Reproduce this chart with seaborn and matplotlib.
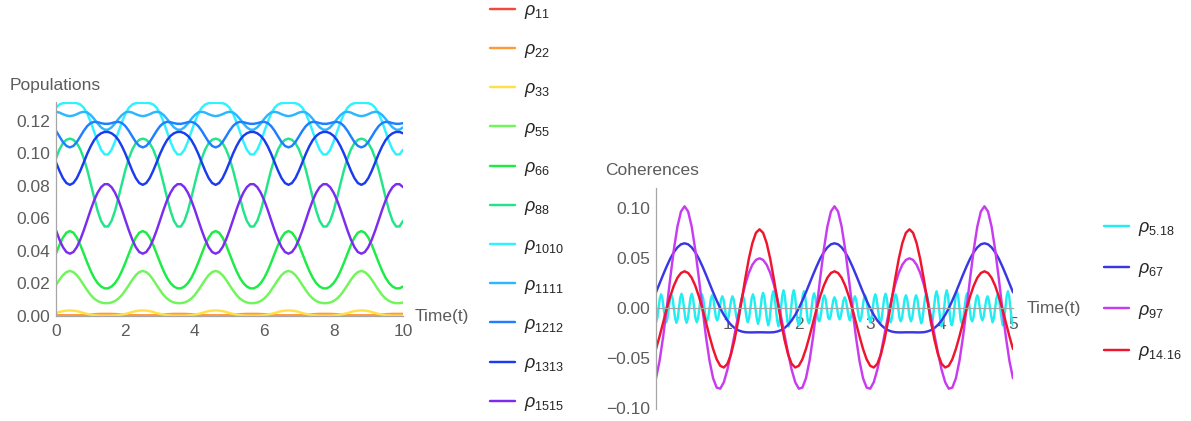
import numpy as np
import pandas as pd
import matplotlib
matplotlib.use("Agg")
import matplotlib.pyplot as plt
from matplotlib.lines import Line2D
from matplotlib.ticker import MultipleLocator, FixedLocator, FuncFormatter
import seaborn as sns

sns.set_theme(style="white")
plt.rcParams["font.family"] = ["Liberation Sans", "DejaVu Sans"]
plt.rcParams["mathtext.fontset"] = "custom"
plt.rcParams["mathtext.rm"] = "Liberation Sans"
plt.rcParams["mathtext.it"] = "Liberation Sans:italic"
plt.rcParams["axes.unicode_minus"] = True

# ---------------- populations (t = 0 .. 10, step 0.1) ----------------
t_pop = np.linspace(0, 10, 101)

rho_11 = [
    0.0002, 0.0002, 0.0001, 0.0001, 0.0001, 0.0001, 0.0001, 0.0002, 0.0002, 0.0003, 0.0004, 0.0005, 0.0006, 0.0006, 0.0007, 0.0007, 0.0006, 0.0006, 0.0005, 0.0004, 0.0003,
    0.0002, 0.0002, 0.0001, 0.0001, 0.0001, 0.0001, 0.0001, 0.0002, 0.0002, 0.0003, 0.0004, 0.0005, 0.0006, 0.0006, 0.0007, 0.0007, 0.0006, 0.0006, 0.0005, 0.0004, 0.0003,
    0.0002, 0.0002, 0.0001, 0.0001, 0.0001, 0.0001, 0.0001, 0.0002, 0.0002, 0.0003, 0.0004, 0.0005, 0.0006, 0.0006, 0.0007, 0.0007, 0.0006, 0.0006, 0.0005, 0.0004, 0.0003,
    0.0002, 0.0002, 0.0001, 0.0001, 0.0001, 0.0001, 0.0001, 0.0002, 0.0002, 0.0003, 0.0004, 0.0005, 0.0006, 0.0006, 0.0007, 0.0007, 0.0006, 0.0006, 0.0005, 0.0004, 0.0003,
    0.0002, 0.0002, 0.0001, 0.0001, 0.0001, 0.0001, 0.0001, 0.0002, 0.0002, 0.0003, 0.0004, 0.0005, 0.0006, 0.0006, 0.0007, 0.0007, 0.0006,
]
rho_22 = [
    0.0006, 0.0005, 0.0004, 0.0004, 0.0004, 0.0004, 0.0004, 0.0005, 0.0006, 0.0008, 0.0009, 0.0011, 0.0012, 0.0013, 0.0013, 0.0013, 0.0013, 0.0012, 0.0011, 0.0009, 0.0008,
    0.0006, 0.0005, 0.0004, 0.0004, 0.0004, 0.0004, 0.0004, 0.0005, 0.0006, 0.0008, 0.0009, 0.0011, 0.0012, 0.0013, 0.0013, 0.0013, 0.0013, 0.0012, 0.0011, 0.0009, 0.0008,
    0.0006, 0.0005, 0.0004, 0.0004, 0.0004, 0.0004, 0.0004, 0.0005, 0.0006, 0.0008, 0.0009, 0.0011, 0.0012, 0.0013, 0.0013, 0.0013, 0.0013, 0.0012, 0.0011, 0.0009, 0.0008,
    0.0006, 0.0005, 0.0004, 0.0004, 0.0004, 0.0004, 0.0004, 0.0005, 0.0006, 0.0008, 0.0009, 0.0011, 0.0012, 0.0013, 0.0013, 0.0013, 0.0013, 0.0012, 0.0011, 0.0009, 0.0008,
    0.0006, 0.0005, 0.0004, 0.0004, 0.0004, 0.0004, 0.0004, 0.0005, 0.0006, 0.0008, 0.0009, 0.0011, 0.0012, 0.0013, 0.0013, 0.0013, 0.0013,
]
rho_33 = [
    0.0018, 0.0025, 0.0030, 0.0033, 0.0034, 0.0033, 0.0030, 0.0025, 0.0018, 0.0013, 0.0008, 0.0005, 0.0003, 0.0002, 0.0002, 0.0002, 0.0002, 0.0003, 0.0005, 0.0008, 0.0013,
    0.0018, 0.0025, 0.0030, 0.0033, 0.0034, 0.0033, 0.0030, 0.0025, 0.0018, 0.0013, 0.0008, 0.0005, 0.0003, 0.0002, 0.0002, 0.0002, 0.0002, 0.0003, 0.0005, 0.0008, 0.0013,
    0.0018, 0.0025, 0.0030, 0.0033, 0.0034, 0.0033, 0.0030, 0.0025, 0.0018, 0.0013, 0.0008, 0.0005, 0.0003, 0.0002, 0.0002, 0.0002, 0.0002, 0.0003, 0.0005, 0.0008, 0.0013,
    0.0018, 0.0025, 0.0030, 0.0033, 0.0034, 0.0033, 0.0030, 0.0025, 0.0018, 0.0013, 0.0008, 0.0005, 0.0003, 0.0002, 0.0002, 0.0002, 0.0002, 0.0003, 0.0005, 0.0008, 0.0013,
    0.0018, 0.0025, 0.0030, 0.0033, 0.0034, 0.0033, 0.0030, 0.0025, 0.0018, 0.0013, 0.0008, 0.0005, 0.0003, 0.0002, 0.0002, 0.0002, 0.0002,
]
rho_55 = [
    0.0190, 0.0223, 0.0251, 0.0270, 0.0277, 0.0270, 0.0251, 0.0223, 0.0190, 0.0158, 0.0129, 0.0107, 0.0092, 0.0083, 0.0079, 0.0079, 0.0083, 0.0092, 0.0107, 0.0129, 0.0158,
    0.0190, 0.0223, 0.0251, 0.0270, 0.0277, 0.0270, 0.0251, 0.0223, 0.0190, 0.0158, 0.0129, 0.0107, 0.0092, 0.0083, 0.0079, 0.0079, 0.0083, 0.0092, 0.0107, 0.0129, 0.0158,
    0.0190, 0.0223, 0.0251, 0.0270, 0.0277, 0.0270, 0.0251, 0.0223, 0.0190, 0.0158, 0.0129, 0.0107, 0.0092, 0.0083, 0.0079, 0.0079, 0.0083, 0.0092, 0.0107, 0.0129, 0.0158,
    0.0190, 0.0223, 0.0251, 0.0270, 0.0277, 0.0270, 0.0251, 0.0223, 0.0190, 0.0158, 0.0129, 0.0107, 0.0092, 0.0083, 0.0079, 0.0079, 0.0083, 0.0092, 0.0107, 0.0129, 0.0158,
    0.0190, 0.0223, 0.0251, 0.0270, 0.0277, 0.0270, 0.0251, 0.0223, 0.0190, 0.0158, 0.0129, 0.0107, 0.0092, 0.0083, 0.0079, 0.0079, 0.0083,
]
rho_66 = [
    0.0383, 0.0437, 0.0482, 0.0512, 0.0522, 0.0512, 0.0482, 0.0437, 0.0383, 0.0328, 0.0277, 0.0234, 0.0202, 0.0181, 0.0170, 0.0170, 0.0181, 0.0202, 0.0234, 0.0277, 0.0328,
    0.0383, 0.0437, 0.0482, 0.0512, 0.0522, 0.0512, 0.0482, 0.0437, 0.0383, 0.0328, 0.0277, 0.0234, 0.0202, 0.0181, 0.0170, 0.0170, 0.0181, 0.0202, 0.0234, 0.0277, 0.0328,
    0.0383, 0.0437, 0.0482, 0.0512, 0.0522, 0.0512, 0.0482, 0.0437, 0.0383, 0.0328, 0.0277, 0.0234, 0.0202, 0.0181, 0.0170, 0.0170, 0.0181, 0.0202, 0.0234, 0.0277, 0.0328,
    0.0383, 0.0437, 0.0482, 0.0512, 0.0522, 0.0512, 0.0482, 0.0437, 0.0383, 0.0328, 0.0277, 0.0234, 0.0202, 0.0181, 0.0170, 0.0170, 0.0181, 0.0202, 0.0234, 0.0277, 0.0328,
    0.0383, 0.0437, 0.0482, 0.0512, 0.0522, 0.0512, 0.0482, 0.0437, 0.0383, 0.0328, 0.0277, 0.0234, 0.0202, 0.0181, 0.0170, 0.0170, 0.0181,
]
rho_88 = [
    0.0969, 0.1024, 0.1062, 0.1083, 0.1090, 0.1083, 0.1062, 0.1024, 0.0969, 0.0898, 0.0814, 0.0727, 0.0646, 0.0584, 0.0550, 0.0550, 0.0584, 0.0646, 0.0727, 0.0814, 0.0898,
    0.0969, 0.1024, 0.1062, 0.1083, 0.1090, 0.1083, 0.1062, 0.1024, 0.0969, 0.0898, 0.0814, 0.0727, 0.0646, 0.0584, 0.0550, 0.0550, 0.0584, 0.0646, 0.0727, 0.0814, 0.0898,
    0.0969, 0.1024, 0.1062, 0.1083, 0.1090, 0.1083, 0.1062, 0.1024, 0.0969, 0.0898, 0.0814, 0.0727, 0.0646, 0.0584, 0.0550, 0.0550, 0.0584, 0.0646, 0.0727, 0.0814, 0.0898,
    0.0969, 0.1024, 0.1062, 0.1083, 0.1090, 0.1083, 0.1062, 0.1024, 0.0969, 0.0898, 0.0814, 0.0727, 0.0646, 0.0584, 0.0550, 0.0550, 0.0584, 0.0646, 0.0727, 0.0814, 0.0898,
    0.0969, 0.1024, 0.1062, 0.1083, 0.1090, 0.1083, 0.1062, 0.1024, 0.0969, 0.0898, 0.0814, 0.0727, 0.0646, 0.0584, 0.0550, 0.0550, 0.0584,
]
rho_1010 = [
    0.1280, 0.1300, 0.1308, 0.1310, 0.1310, 0.1310, 0.1308, 0.1300, 0.1280, 0.1244, 0.1192, 0.1132, 0.1071, 0.1021, 0.0993, 0.0993, 0.1021, 0.1071, 0.1132, 0.1192, 0.1244,
    0.1280, 0.1300, 0.1308, 0.1310, 0.1310, 0.1310, 0.1308, 0.1300, 0.1280, 0.1244, 0.1192, 0.1132, 0.1071, 0.1021, 0.0993, 0.0993, 0.1021, 0.1071, 0.1132, 0.1192, 0.1244,
    0.1280, 0.1300, 0.1308, 0.1310, 0.1310, 0.1310, 0.1308, 0.1300, 0.1280, 0.1244, 0.1192, 0.1132, 0.1071, 0.1021, 0.0993, 0.0993, 0.1021, 0.1071, 0.1132, 0.1192, 0.1244,
    0.1280, 0.1300, 0.1308, 0.1310, 0.1310, 0.1310, 0.1308, 0.1300, 0.1280, 0.1244, 0.1192, 0.1132, 0.1071, 0.1021, 0.0993, 0.0993, 0.1021, 0.1071, 0.1132, 0.1192, 0.1244,
    0.1280, 0.1300, 0.1308, 0.1310, 0.1310, 0.1310, 0.1308, 0.1300, 0.1280, 0.1244, 0.1192, 0.1132, 0.1071, 0.1021, 0.0993, 0.0993, 0.1021,
]
rho_1111 = [
    0.1255, 0.1250, 0.1240, 0.1232, 0.1228, 0.1232, 0.1240, 0.1250, 0.1255, 0.1251, 0.1235, 0.1211, 0.1183, 0.1159, 0.1145, 0.1145, 0.1159, 0.1183, 0.1211, 0.1235, 0.1251,
    0.1255, 0.1250, 0.1240, 0.1232, 0.1228, 0.1232, 0.1240, 0.1250, 0.1255, 0.1251, 0.1235, 0.1211, 0.1183, 0.1159, 0.1145, 0.1145, 0.1159, 0.1183, 0.1211, 0.1235, 0.1251,
    0.1255, 0.1250, 0.1240, 0.1232, 0.1228, 0.1232, 0.1240, 0.1250, 0.1255, 0.1251, 0.1235, 0.1211, 0.1183, 0.1159, 0.1145, 0.1145, 0.1159, 0.1183, 0.1211, 0.1235, 0.1251,
    0.1255, 0.1250, 0.1240, 0.1232, 0.1228, 0.1232, 0.1240, 0.1250, 0.1255, 0.1251, 0.1235, 0.1211, 0.1183, 0.1159, 0.1145, 0.1145, 0.1159, 0.1183, 0.1211, 0.1235, 0.1251,
    0.1255, 0.1250, 0.1240, 0.1232, 0.1228, 0.1232, 0.1240, 0.1250, 0.1255, 0.1251, 0.1235, 0.1211, 0.1183, 0.1159, 0.1145, 0.1145, 0.1159,
]
rho_1212 = [
    0.1138, 0.1103, 0.1069, 0.1045, 0.1036, 0.1045, 0.1069, 0.1103, 0.1138, 0.1167, 0.1186, 0.1193, 0.1191, 0.1185, 0.1181, 0.1181, 0.1185, 0.1191, 0.1193, 0.1186, 0.1167,
    0.1138, 0.1103, 0.1069, 0.1045, 0.1036, 0.1045, 0.1069, 0.1103, 0.1138, 0.1167, 0.1186, 0.1193, 0.1191, 0.1185, 0.1181, 0.1181, 0.1185, 0.1191, 0.1193, 0.1186, 0.1167,
    0.1138, 0.1103, 0.1069, 0.1045, 0.1036, 0.1045, 0.1069, 0.1103, 0.1138, 0.1167, 0.1186, 0.1193, 0.1191, 0.1185, 0.1181, 0.1181, 0.1185, 0.1191, 0.1193, 0.1186, 0.1167,
    0.1138, 0.1103, 0.1069, 0.1045, 0.1036, 0.1045, 0.1069, 0.1103, 0.1138, 0.1167, 0.1186, 0.1193, 0.1191, 0.1185, 0.1181, 0.1181, 0.1185, 0.1191, 0.1193, 0.1186, 0.1167,
    0.1138, 0.1103, 0.1069, 0.1045, 0.1036, 0.1045, 0.1069, 0.1103, 0.1138, 0.1167, 0.1186, 0.1193, 0.1191, 0.1185, 0.1181, 0.1181, 0.1185,
]
rho_1313 = [
    0.0944, 0.0892, 0.0847, 0.0817, 0.0806, 0.0817, 0.0847, 0.0892, 0.0944, 0.0997, 0.1043, 0.1081, 0.1107, 0.1123, 0.1131, 0.1131, 0.1123, 0.1107, 0.1081, 0.1043, 0.0997,
    0.0944, 0.0892, 0.0847, 0.0817, 0.0806, 0.0817, 0.0847, 0.0892, 0.0944, 0.0997, 0.1043, 0.1081, 0.1107, 0.1123, 0.1131, 0.1131, 0.1123, 0.1107, 0.1081, 0.1043, 0.0997,
    0.0944, 0.0892, 0.0847, 0.0817, 0.0806, 0.0817, 0.0847, 0.0892, 0.0944, 0.0997, 0.1043, 0.1081, 0.1107, 0.1123, 0.1131, 0.1131, 0.1123, 0.1107, 0.1081, 0.1043, 0.0997,
    0.0944, 0.0892, 0.0847, 0.0817, 0.0806, 0.0817, 0.0847, 0.0892, 0.0944, 0.0997, 0.1043, 0.1081, 0.1107, 0.1123, 0.1131, 0.1131, 0.1123, 0.1107, 0.1081, 0.1043, 0.0997,
    0.0944, 0.0892, 0.0847, 0.0817, 0.0806, 0.0817, 0.0847, 0.0892, 0.0944, 0.0997, 0.1043, 0.1081, 0.1107, 0.1123, 0.1131, 0.1131, 0.1123,
]
rho_1515 = [
    0.0526, 0.0469, 0.0423, 0.0393, 0.0383, 0.0393, 0.0423, 0.0469, 0.0526, 0.0589, 0.0653, 0.0711, 0.0758, 0.0792, 0.0810, 0.0810, 0.0792, 0.0758, 0.0711, 0.0653, 0.0589,
    0.0526, 0.0469, 0.0423, 0.0393, 0.0383, 0.0393, 0.0423, 0.0469, 0.0526, 0.0589, 0.0653, 0.0711, 0.0758, 0.0792, 0.0810, 0.0810, 0.0792, 0.0758, 0.0711, 0.0653, 0.0589,
    0.0526, 0.0469, 0.0423, 0.0393, 0.0383, 0.0393, 0.0423, 0.0469, 0.0526, 0.0589, 0.0653, 0.0711, 0.0758, 0.0792, 0.0810, 0.0810, 0.0792, 0.0758, 0.0711, 0.0653, 0.0589,
    0.0526, 0.0469, 0.0423, 0.0393, 0.0383, 0.0393, 0.0423, 0.0469, 0.0526, 0.0589, 0.0653, 0.0711, 0.0758, 0.0792, 0.0810, 0.0810, 0.0792, 0.0758, 0.0711, 0.0653, 0.0589,
    0.0526, 0.0469, 0.0423, 0.0393, 0.0383, 0.0393, 0.0423, 0.0469, 0.0526, 0.0589, 0.0653, 0.0711, 0.0758, 0.0792, 0.0810, 0.0810, 0.0792,
]

pop_names = ["11", "22", "33", "55", "66", "88", "1010", "1111", "1212", "1313", "1515"]
pop_values = [rho_11, rho_22, rho_33, rho_55, rho_66, rho_88,
              rho_1010, rho_1111, rho_1212, rho_1313, rho_1515]
pop_colors = ["#f4493a", "#ff9a3a", "#ffe04a", "#70f55a", "#1cec45", "#22e58a",
              "#2ef2ff", "#2bb6ff", "#1f7fff", "#1a3cee", "#7b2cee"]

# ---------------- coherences (t = 0 .. 5) ----------------
t_coh = np.linspace(0, 5, 101)      # step 0.05
t_fast = np.linspace(0, 5, 281)     # step 1/56

rho_5_18 = [
    -0.0140, -0.0099, 0.0000, 0.0099, 0.0140, 0.0099, 0.0000, -0.0099,
    -0.0140, -0.0099, 0.0000, 0.0099, 0.0140, 0.0099, 0.0000, -0.0099,
    -0.0145, -0.0103, 0.0000, 0.0103, 0.0145, 0.0103, 0.0000, -0.0103,
    -0.0145, -0.0103, 0.0000, 0.0103, 0.0145, 0.0103, 0.0000, -0.0103,
    -0.0140, -0.0099, 0.0000, 0.0099, 0.0140, 0.0099, 0.0000, -0.0099,
    -0.0130, -0.0092, 0.0000, 0.0092, 0.0130, 0.0092, 0.0000, -0.0092,
    -0.0120, -0.0085, 0.0000, 0.0085, 0.0120, 0.0085, 0.0000, -0.0085,
    -0.0120, -0.0085, 0.0000, 0.0085, 0.0120, 0.0085, 0.0000, -0.0085,
    -0.0130, -0.0092, 0.0000, 0.0092, 0.0130, 0.0092, 0.0000, -0.0092,
    -0.0140, -0.0099, 0.0000, 0.0099, 0.0140, 0.0099, 0.0000, -0.0099,
    -0.0155, -0.0110, 0.0000, 0.0110, 0.0155, 0.0110, 0.0000, -0.0110,
    -0.0170, -0.0120, 0.0000, 0.0120, 0.0170, 0.0120, 0.0000, -0.0120,
    -0.0180, -0.0127, 0.0000, 0.0127, 0.0180, 0.0127, 0.0000, -0.0127,
    -0.0180, -0.0127, 0.0000, 0.0127, 0.0180, 0.0127, 0.0000, -0.0127,
    -0.0170, -0.0120, 0.0000, 0.0120, 0.0170, 0.0120, 0.0000, -0.0120,
    -0.0150, -0.0106, 0.0000, 0.0106, 0.0150, 0.0106, 0.0000, -0.0106,
    -0.0130, -0.0092, 0.0000, 0.0092, 0.0130, 0.0092, 0.0000, -0.0092,
    -0.0110, -0.0078, 0.0000, 0.0078, 0.0110, 0.0078, 0.0000, -0.0078,
    -0.0110, -0.0078, 0.0000, 0.0078, 0.0110, 0.0078, 0.0000, -0.0078,
    -0.0120, -0.0085, 0.0000, 0.0085, 0.0120, 0.0085, 0.0000, -0.0085,
    -0.0130, -0.0092, 0.0000, 0.0092, 0.0130, 0.0092, 0.0000, -0.0092,
    -0.0140, -0.0099, 0.0000, 0.0099, 0.0140, 0.0099, 0.0000, -0.0099,
    -0.0145, -0.0103, 0.0000, 0.0103, 0.0145, 0.0103, 0.0000, -0.0103,
    -0.0140, -0.0099, 0.0000, 0.0099, 0.0140, 0.0099, 0.0000, -0.0099,
    -0.0130, -0.0092, 0.0000, 0.0092, 0.0130, 0.0092, 0.0000, -0.0092,
    -0.0130, -0.0092, 0.0000, 0.0092, 0.0130, 0.0092, 0.0000, -0.0092,
    -0.0150, -0.0106, 0.0000, 0.0106, 0.0150, 0.0106, 0.0000, -0.0106,
    -0.0170, -0.0120, 0.0000, 0.0120, 0.0170, 0.0120, 0.0000, -0.0120,
    -0.0180, -0.0127, 0.0000, 0.0127, 0.0180, 0.0127, 0.0000, -0.0127,
    -0.0170, -0.0120, 0.0000, 0.0120, 0.0170, 0.0120, 0.0000, -0.0120,
    -0.0150, -0.0106, 0.0000, 0.0106, 0.0150, 0.0106, 0.0000, -0.0106,
    -0.0130, -0.0092, 0.0000, 0.0092, 0.0130, 0.0092, 0.0000, -0.0092,
    -0.0120, -0.0085, 0.0000, 0.0085, 0.0120, 0.0085, 0.0000, -0.0085,
    -0.0140, -0.0099, 0.0000, 0.0099, 0.0140, 0.0099, 0.0000, -0.0099,
    -0.0170, -0.0120, 0.0000, 0.0120, 0.0170, 0.0120, 0.0000, -0.0120,
    -0.0170,
]
rho_67 = [
    0.0160, 0.0248, 0.0336, 0.0420, 0.0497, 0.0561, 0.0609, 0.0640, 0.0650, 0.0640, 0.0609, 0.0561, 0.0497, 0.0420,
    0.0336, 0.0248, 0.0160, 0.0077, 0.0000, -0.0066, -0.0122, -0.0165, -0.0197, -0.0219, -0.0232, -0.0239, -0.0241, -0.0241,
    -0.0240, -0.0240, -0.0240, -0.0241, -0.0241, -0.0239, -0.0232, -0.0219, -0.0197, -0.0165, -0.0122, -0.0066, 0.0000, 0.0077,
    0.0160, 0.0248, 0.0336, 0.0420, 0.0497, 0.0561, 0.0609, 0.0640, 0.0650, 0.0640, 0.0609, 0.0561, 0.0497, 0.0420,
    0.0336, 0.0248, 0.0160, 0.0077, 0.0000, -0.0066, -0.0122, -0.0165, -0.0197, -0.0219, -0.0232, -0.0239, -0.0241, -0.0241,
    -0.0240, -0.0240, -0.0240, -0.0241, -0.0241, -0.0239, -0.0232, -0.0219, -0.0197, -0.0165, -0.0122, -0.0066, 0.0000, 0.0077,
    0.0160, 0.0248, 0.0336, 0.0420, 0.0497, 0.0561, 0.0609, 0.0640, 0.0650, 0.0640, 0.0609, 0.0561, 0.0497, 0.0420,
    0.0336, 0.0248, 0.0160,
]
rho_97 = [
    -0.0700, -0.0526, -0.0285, 0.0002, 0.0304, 0.0586, 0.0817, 0.0968, 0.1020, 0.0968, 0.0817, 0.0586, 0.0304, 0.0002,
    -0.0285, -0.0526, -0.0700, -0.0793, -0.0804, -0.0739, -0.0614, -0.0449, -0.0264, -0.0078, 0.0093, 0.0239, 0.0354, 0.0436,
    0.0484, 0.0500, 0.0484, 0.0436, 0.0354, 0.0239, 0.0093, -0.0078, -0.0264, -0.0449, -0.0614, -0.0739, -0.0804, -0.0793,
    -0.0700, -0.0526, -0.0285, 0.0002, 0.0304, 0.0586, 0.0817, 0.0968, 0.1020, 0.0968, 0.0817, 0.0586, 0.0304, 0.0002,
    -0.0285, -0.0526, -0.0700, -0.0793, -0.0804, -0.0739, -0.0614, -0.0449, -0.0264, -0.0078, 0.0093, 0.0239, 0.0354, 0.0436,
    0.0484, 0.0500, 0.0484, 0.0436, 0.0354, 0.0239, 0.0093, -0.0078, -0.0264, -0.0449, -0.0614, -0.0739, -0.0804, -0.0793,
    -0.0700, -0.0526, -0.0285, 0.0002, 0.0304, 0.0586, 0.0817, 0.0968, 0.1020, 0.0968, 0.0817, 0.0586, 0.0304, 0.0002,
    -0.0285, -0.0526, -0.0700,
]
rho_14_16 = [
    -0.0407, -0.0280, -0.0142, -0.0004, 0.0121, 0.0226, 0.0305, 0.0353, 0.0370, 0.0353, 0.0305, 0.0226, 0.0121, -0.0004,
    -0.0142, -0.0280, -0.0407, -0.0510, -0.0575, -0.0592, -0.0555, -0.0461, -0.0315, -0.0129, 0.0082, 0.0296, 0.0494, 0.0652,
    0.0755, 0.0790, 0.0755, 0.0652, 0.0494, 0.0296, 0.0082, -0.0129, -0.0315, -0.0461, -0.0555, -0.0592, -0.0575, -0.0510,
    -0.0407, -0.0280, -0.0142, -0.0004, 0.0121, 0.0226, 0.0305, 0.0353, 0.0370, 0.0353, 0.0305, 0.0226, 0.0121, -0.0004,
    -0.0142, -0.0280, -0.0407, -0.0510, -0.0575, -0.0592, -0.0555, -0.0461, -0.0315, -0.0129, 0.0082, 0.0296, 0.0494, 0.0652,
    0.0755, 0.0790, 0.0755, 0.0652, 0.0494, 0.0296, 0.0082, -0.0129, -0.0315, -0.0461, -0.0555, -0.0592, -0.0575, -0.0510,
    -0.0407, -0.0280, -0.0142, -0.0004, 0.0121, 0.0226, 0.0305, 0.0353, 0.0370, 0.0353, 0.0305, 0.0226, 0.0121, -0.0004,
    -0.0142, -0.0280, -0.0407,
]

coh_names = ["5.18", "67", "97", "14.16"]
coh_times = [t_fast, t_coh, t_coh, t_coh]
coh_values = [rho_5_18, rho_67, rho_97, rho_14_16]
coh_colors = ["#22eef2", "#3b36e4", "#c83cf0", "#f0142c"]

# ---------------- long-form tables ----------------
pop_df = pd.concat(
    [pd.DataFrame({"t": t_pop, "value": v, "series": n}) for n, v in zip(pop_names, pop_values)],
    ignore_index=True)
coh_df = pd.concat(
    [pd.DataFrame({"t": tt, "value": v, "series": n}) for n, tt, v in zip(coh_names, coh_times, coh_values)],
    ignore_index=True)

AXIS_GRAY = "#a6a6a6"
TEXT_GRAY = "#5c5c5c"
FS = 12.5
LW = 1.75

fig = plt.figure(figsize=(11.91, 4.21), dpi=100)
W, H = 1191.0, 421.0
ax1 = fig.add_axes([56 / W, 105 / H, 347 / W, 214 / H])
ax2 = fig.add_axes([656 / W, 12 / H, 357 / W, 221 / H])

sns.lineplot(data=pop_df, x="t", y="value", hue="series", hue_order=pop_names,
             palette=dict(zip(pop_names, pop_colors)), estimator=None, sort=False,
             linewidth=LW, legend=False, ax=ax1)
sns.lineplot(data=coh_df, x="t", y="value", hue="series", hue_order=coh_names,
             palette=dict(zip(coh_names, coh_colors)), estimator=None, sort=False,
             linewidth=LW, legend=False, ax=ax2)


def fmt(decimals):
    return FuncFormatter(lambda v, pos: f"{v:.{decimals}f}".replace("-", "\u2212"))


def style_axes(ax):
    for side in ("top", "right"):
        ax.spines[side].set_visible(False)
    for side in ("left", "bottom"):
        ax.spines[side].set_color(AXIS_GRAY)
        ax.spines[side].set_linewidth(0.9)
    ax.set_facecolor("none")
    ax.tick_params(which="both", direction="in", color=AXIS_GRAY, width=0.8,
                   labelcolor=TEXT_GRAY, labelsize=FS)
    ax.tick_params(which="major", length=5)
    ax.tick_params(which="minor", length=3)
    ax.tick_params(axis="x", pad=6)
    ax.tick_params(axis="y", pad=4)
    ax.set_xlabel("")
    ax.set_ylabel("")
    ax.grid(False)


style_axes(ax1)
ax1.set_xlim(0, 10)
ax1.set_ylim(0, 0.1315)
ax1.xaxis.set_major_locator(MultipleLocator(2))
ax1.xaxis.set_minor_locator(MultipleLocator(0.5))
ax1.yaxis.set_major_locator(MultipleLocator(0.02))
ax1.yaxis.set_minor_locator(MultipleLocator(0.005))
ax1.yaxis.set_major_formatter(fmt(2))
ax1.xaxis.set_major_formatter(fmt(0))

style_axes(ax2)
ax2.set_xlim(0, 5)
ax2.set_ylim(-0.1007, 0.1203)
ax2.spines["bottom"].set_position(("data", 0))
ax2.xaxis.set_major_locator(FixedLocator([1, 2, 3, 4, 5]))
ax2.xaxis.set_minor_locator(MultipleLocator(0.2))
ax2.xaxis.set_major_formatter(fmt(0))
ax2.yaxis.set_major_locator(MultipleLocator(0.05))
ax2.yaxis.set_minor_locator(MultipleLocator(0.01))
ax2.yaxis.set_major_formatter(fmt(2))

# axis captions
ax1.annotate("Time(t)", xy=(1, 0), xycoords="axes fraction", xytext=(8.5, 0),
             textcoords="offset points", va="center", ha="left",
             fontsize=FS, color=TEXT_GRAY)
ax2.annotate("Time(t)", xy=(1, 0), xycoords=("axes fraction", "data"), xytext=(10, 0),
             textcoords="offset points", va="center", ha="left",
             fontsize=FS, color=TEXT_GRAY)
fig.text(10 / W, 1 - 90 / H, "Populations", fontsize=FS, color=TEXT_GRAY, va="baseline")
fig.text(605 / W, 1 - 175 / H, "Coherences", fontsize=FS, color=TEXT_GRAY, va="baseline")

# legends
pop_handles = [Line2D([], [], color=c, lw=LW) for c in pop_colors]
pop_labels = [r"$\rho_{%s}$" % n for n in pop_names]
fig.legend(pop_handles, pop_labels, loc="upper left",
           bbox_to_anchor=(490 / W, 1 - 2 / H), frameon=False, fontsize=13,
           handlelength=1.4, handletextpad=0.5, labelspacing=1.12,
           borderpad=0, borderaxespad=0)

coh_handles = [Line2D([], [], color=c, lw=LW) for c in coh_colors]
coh_labels = [r"$\rho_{%s}$" % n for n in coh_names]
fig.legend(coh_handles, coh_labels, loc="upper left",
           bbox_to_anchor=(1104 / W, 1 - 219 / H), frameon=False, fontsize=13,
           handlelength=1.4, handletextpad=0.5, labelspacing=1.24,
           borderpad=0, borderaxespad=0)

fig.savefig("out.png", dpi=100, facecolor="white")
